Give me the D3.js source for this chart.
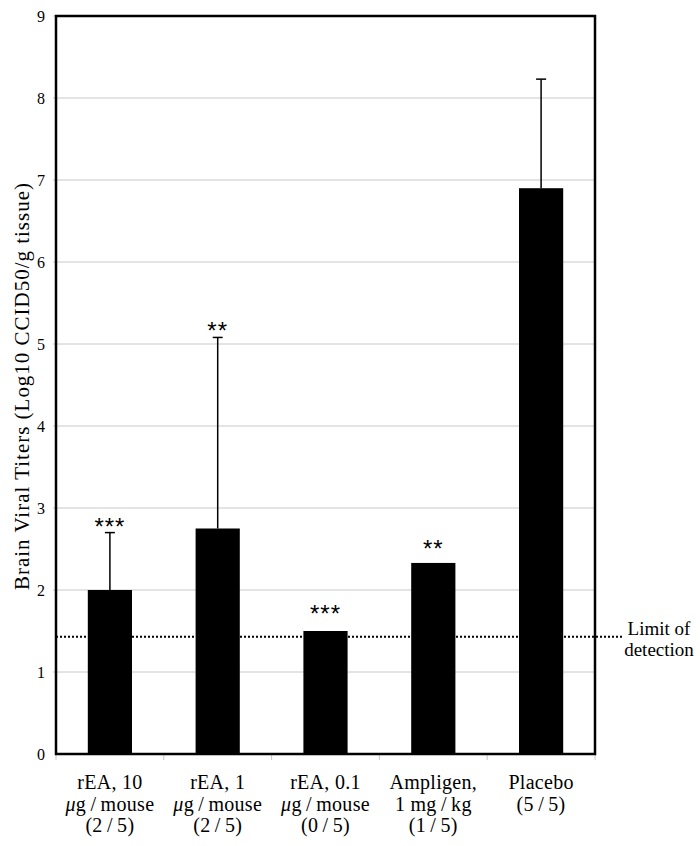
<!DOCTYPE html>
<html><head><meta charset="utf-8">
<script src="https://cdn.jsdelivr.net/npm/d3@7"></script>
<style>body{margin:0;background:#fff}</style>
</head><body>
<svg id="c" width="700" height="846"></svg>
<script>
const categories = ["rEA10","rEA1","rEA01","Ampligen","Placebo"];
const labels = [
  ["rEA, 10","μ|g\u2009/\u2009mouse","(2\u2009/\u20095)"],
  ["rEA, 1","μ|g\u2009/\u2009mouse","(2\u2009/\u20095)"],
  ["rEA, 0.1","μ|g\u2009/\u2009mouse","(0\u2009/\u20095)"],
  ["Ampligen,","1 mg\u2009/\u2009kg","(1\u2009/\u20095)"],
  ["Placebo","(5\u2009/\u20095)"]
];
const values = [2.0, 2.75, 1.5, 2.33, 6.9];
const errorTops = [2.7, 5.08, null, null, 8.23];
const stars = ["***","**","***","**",""];
const starAnchor = [2.7, 5.08, 1.63, 2.43, null];
const yTicks = [0,1,2,3,4,5,6,7,8,9];
const limitOfDetection = 1.43;

const svg = d3.select("#c");
const font = "'Liberation Serif','DejaVu Serif',serif";
const L = 56, R = 595, T = 16, B = 754;
const x = d3.scaleBand().domain(categories).range([L, R]).paddingInner(0.59).paddingOuter(0.295);
const xb = d3.scaleBand().domain(categories).range([L, R]);
const y = d3.scaleLinear().domain([0, 9]).range([B, T]);

// grid
svg.append("g").selectAll("line").data(yTicks.slice(1)).join("line")
  .attr("x1", L - 3).attr("x2", R).attr("y1", d => y(d)).attr("y2", d => y(d))
  .attr("stroke", "#c8c8c8").attr("stroke-width", 1);

// y tick labels
svg.append("g").selectAll("text").data(yTicks).join("text")
  .attr("x", 45).attr("y", d => y(d)).attr("dy", "0.35em").attr("text-anchor", "end")
  .attr("font-family", font).attr("font-size", 16).attr("fill", "#000").text(d => d);

// x tick marks at category boundaries
const bounds = categories.map(c => xb(c)).concat([R]);
svg.append("g").selectAll("line").data(bounds).join("line")
  .attr("x1", d => d).attr("x2", d => d).attr("y1", B).attr("y2", B + 6)
  .attr("stroke", "#c8c8c8");

// bars
svg.append("g").selectAll("rect").data(categories).join("rect")
  .attr("x", d => x(d)).attr("width", x.bandwidth())
  .attr("y", (d, i) => y(values[i])).attr("height", (d, i) => y(0) - y(values[i]))
  .attr("fill", "#000");

// error bars
const eg = svg.append("g");
categories.forEach((c, i) => {
  if (errorTops[i] == null) return;
  const cx = x(c) + x.bandwidth() / 2;
  eg.append("line").attr("x1", cx).attr("x2", cx).attr("y1", y(values[i])).attr("y2", y(errorTops[i]))
    .attr("stroke", "#000").attr("stroke-width", 1.5);
  eg.append("line").attr("x1", cx - 5).attr("x2", cx + 5).attr("y1", y(errorTops[i])).attr("y2", y(errorTops[i]))
    .attr("stroke", "#000").attr("stroke-width", 1.5);
});

// stars
svg.append("g").selectAll("text").data(categories).join("text")
  .attr("x", d => x(d) + x.bandwidth() / 2)
  .attr("y", (d, i) => starAnchor[i] == null ? 0 : y(starAnchor[i]) + 2)
  .attr("text-anchor", "middle").attr("font-family", "'Liberation Sans',Arial,sans-serif").attr("font-size", 24)
  .attr("fill", "#000").attr("letter-spacing", 1)
  .text((d, i) => stars[i]);

// limit of detection
svg.append("line").attr("x1", L).attr("x2", 622).attr("y1", y(limitOfDetection)).attr("y2", y(limitOfDetection))
  .attr("stroke", "#000").attr("stroke-width", 2).attr("stroke-dasharray", "2,2");
const lt = svg.append("text").attr("font-family", font).attr("font-size", 19).attr("text-anchor", "middle").attr("fill", "#000");
lt.append("tspan").attr("x", 659).attr("y", 635).text("Limit of");
lt.append("tspan").attr("x", 659).attr("y", 656).text("detection");

// frame
svg.append("rect").attr("x", L).attr("y", T).attr("width", R - L).attr("height", B - T)
  .attr("fill", "none").attr("stroke", "#000").attr("stroke-width", 2.5);

// x labels
const lineY = [789, 811, 832];
categories.forEach((c, i) => {
  const cx = xb(c) + xb.bandwidth() / 2;
  const t = svg.append("text").attr("font-family", font).attr("font-size", 20).attr("text-anchor", "middle")
    .attr("fill", "#000").attr("letter-spacing", 0.3);
  labels[i].forEach((ln, j) => {
    const ts = t.append("tspan").attr("x", cx).attr("y", lineY[j]);
    if (ln.includes("|")) {
      const [a, b] = ln.split("|");
      ts.append("tspan").attr("font-style", "italic").text(a);
      ts.append("tspan").text(b);
    } else ts.text(ln);
  });
});

// y axis title
svg.append("text").attr("transform", `translate(22,${(183 + 590) / 2}) rotate(-90)`)
  .attr("text-anchor", "middle").attr("dy", "0.35em").attr("font-family", font).attr("font-size", 21)
  .attr("fill", "#000").attr("textLength", 407).attr("lengthAdjust", "spacing")
  .text("Brain Viral Titers (Log10 CCID50/g tissue)");
</script>
</body></html>
